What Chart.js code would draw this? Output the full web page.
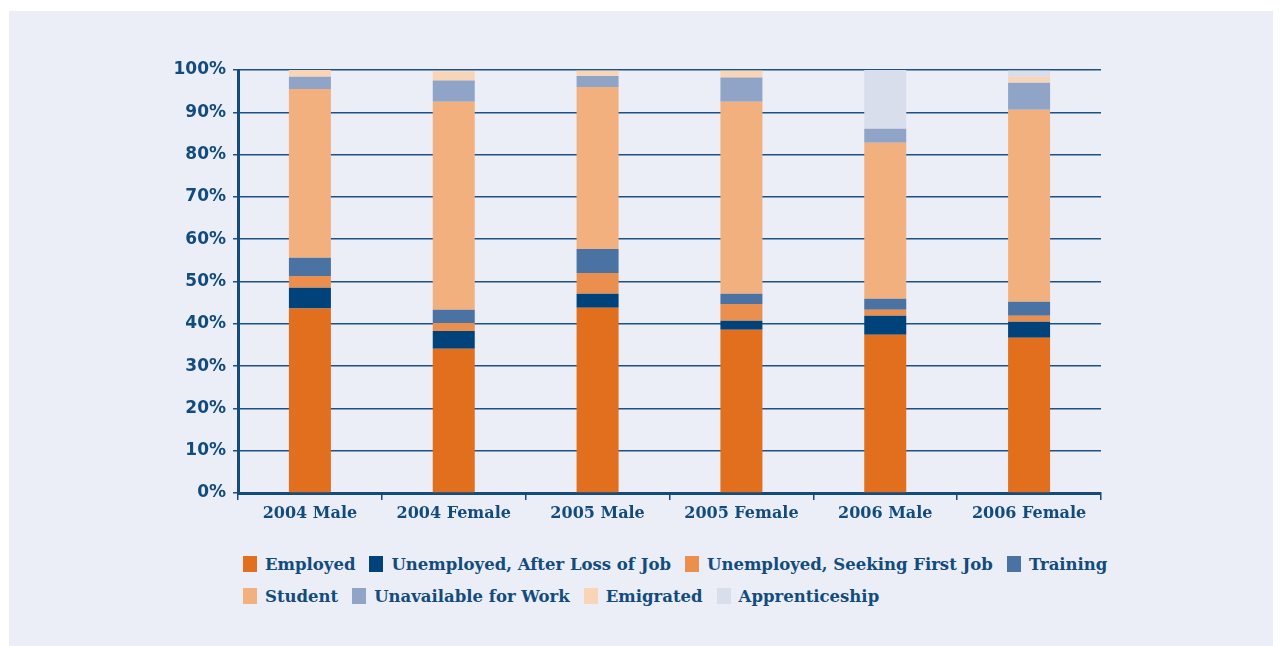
<!DOCTYPE html>
<html>
<head>
<meta charset="utf-8">
<script src="https://cdn.jsdelivr.net/npm/chart.js@4.4.0/dist/chart.umd.min.js"></script>
<style>
  html, body { margin: 0; padding: 0; background: #ffffff; }
  #panel { position: absolute; left: 9px; top: 11px; width: 1264px; height: 635px; background: #ebeef6; }
  #wrap { position: absolute; left: 0; top: 0; width: 1282px; height: 540px; }
  #legend { position: absolute; left: 243px; top: 548px; width: 900px;
    font-family: "DejaVu Serif", serif; font-weight: bold; font-size: 16.5px; color: #124b7e; }
  .row { display: flex; height: 32px; align-items: center; }
  .item { display: flex; align-items: center; margin-right: 14px; }
  .box { width: 14px; height: 16px; margin-right: 8px; }
</style>
</head>
<body>
<div id="panel"></div>
<div id="wrap"><canvas id="grafico" width="1282" height="540"></canvas></div>
<div id="legend"></div>
<script>
// datos (porcentajes)
const categorias = ["2004 Male", "2004 Female", "2005 Male", "2005 Female", "2006 Male", "2006 Female"];
const yTicks = [0, 10, 20, 30, 40, 50, 60, 70, 80, 90, 100];

const employed       = [43.6, 34.1, 43.8, 38.6, 37.4, 36.7];
const unempLoss      = [4.9, 4.2, 3.3, 2.1, 4.5, 3.8];
const unempFirst     = [2.8, 1.9, 4.9, 4.0, 1.4, 1.4];
const training       = [4.3, 3.1, 5.7, 2.4, 2.6, 3.3];
const student        = [39.9, 49.2, 38.3, 45.4, 36.9, 45.4];
const unavailable    = [2.9, 5.0, 2.6, 5.7, 3.3, 6.4];
const emigrated      = [1.6, 2.2, 1.2, 1.6, 0, 1.4];
const apprenticeship = [0, 0, 0, 0, 13.9, 1.4];

const navy = "#124b7e";

let ctx = document.getElementById("grafico").getContext('2d');

let chart = new Chart(ctx, {
  type: "bar",
  data: {
    labels: categorias,
    datasets: [
      { label: "Employed", data: employed, backgroundColor: "#e26f1e" },
      { label: "Unemployed, After Loss of Job", data: unempLoss, backgroundColor: "#00427a" },
      { label: "Unemployed, Seeking First Job", data: unempFirst, backgroundColor: "#eb8f4f" },
      { label: "Training", data: training, backgroundColor: "#4a72a2" },
      { label: "Student", data: student, backgroundColor: "#f3b07f" },
      { label: "Unavailable for Work", data: unavailable, backgroundColor: "#8fa4c6" },
      { label: "Emigrated", data: emigrated, backgroundColor: "#f9d5b8" },
      { label: "Apprenticeship", data: apprenticeship, backgroundColor: "#d8deec" }
    ]
  },
  options: {
    responsive: false,
    animation: false,
    layout: { padding: { left: 160, right: 181, top: 70, bottom: 0 } },
    datasets: {
      bar: { categoryPercentage: 0.292, barPercentage: 1, borderWidth: 0 }
    },
    plugins: {
      legend: { display: false },
      tooltip: { enabled: false }
    },
    scales: {
      x: {
        stacked: true,
        afterFit: (s) => { s.height = 47; },
        border: { display: true, color: navy, width: 3 },
        grid: { offset: true, drawOnChartArea: false, drawTicks: true, tickLength: 7, color: navy, lineWidth: 1.5 },
        ticks: {
          color: navy, padding: 4,
          font: { family: "DejaVu Serif", weight: "bold", size: 16 }
        }
      },
      y: {
        stacked: true,
        min: 0,
        max: 100,
        afterFit: (s) => { s.width = 78; },
        afterBuildTicks: (s) => { s.ticks = yTicks.map(v => ({ value: v })); },
        border: { display: true, color: navy, width: 3 },
        grid: { color: "#1d5186", lineWidth: 1.5, tickLength: 5 },
        ticks: {
          color: navy, padding: 7,
          font: { family: "DejaVu Sans", weight: "bold", size: 17 },
          callback: (v) => v + "%"
        }
      }
    }
  }
});

// leyenda en html, dos filas como el original
let filas = [[0, 1, 2, 3], [4, 5, 6, 7]];
let legendDiv = document.getElementById("legend");
filas.forEach(fila => {
  let row = document.createElement("div");
  row.className = "row";
  fila.forEach(i => {
    let ds = chart.data.datasets[i];
    let item = document.createElement("div");
    item.className = "item";
    item.innerHTML = '<span class="box" style="background:' + ds.backgroundColor + '"></span>' + ds.label;
    row.appendChild(item);
  });
  legendDiv.appendChild(row);
});
</script>
</body>
</html>
